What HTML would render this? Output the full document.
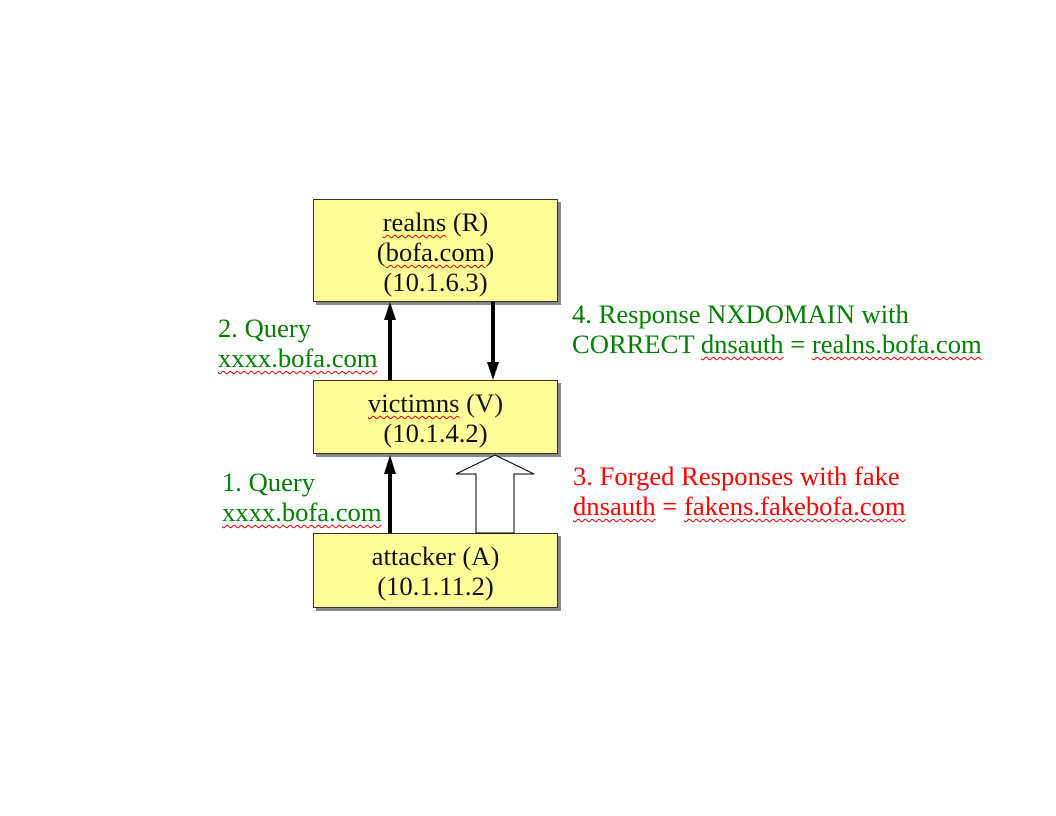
<!DOCTYPE html>
<html><head><style>
body{margin:0;width:1056px;height:816px;background:#fff;position:relative;font-family:"Liberation Serif",serif;font-size:26.6px;overflow:hidden}
.box{position:absolute;left:313px;width:245px;background:#ffff99;border:1px solid #333;box-shadow:3px 3px 0 #888;text-align:center;line-height:30px;color:#111;box-sizing:border-box}
.t{position:absolute;line-height:30px;white-space:nowrap}
.g{color:#008000}.r{color:#ff0000}
.w{text-decoration:underline wavy #e00000;text-decoration-thickness:1px;text-underline-offset:3px}
</style></head><body>
<div class="box" style="top:199px;height:103px;padding-top:7px">
<span class="w">realns</span> (R)<br>(<span class="w">bofa.com</span>)<br>(10.1.6.3)</div>
<div class="box" style="top:380px;height:74px;padding-top:7px">
<span class="w">victimns</span> (V)<br>(10.1.4.2)</div>
<div class="box" style="top:533px;height:75px;padding-top:7px">attacker (A)<br>(10.1.11.2)</div>
<svg width="1056" height="816" style="position:absolute;left:0;top:0">
<line x1="390" y1="380" x2="390" y2="318" stroke="#000" stroke-width="4"/>
<polygon points="384,320 396,320 390,302" fill="#000"/>
<line x1="493" y1="302" x2="493" y2="364" stroke="#000" stroke-width="4"/>
<polygon points="487,362 499,362 493,380" fill="#000"/>
<line x1="390" y1="533" x2="390" y2="472" stroke="#000" stroke-width="4"/>
<polygon points="384,474 396,474 390,455" fill="#000"/>
<polygon points="476,533 476,474 456,474 495,455 534,474 514,474 514,533" fill="#fff" stroke="#000" stroke-width="1"/>
</svg>
<div class="t g" style="left:218px;top:313px">2. Query<br><span class="w">xxxx.bofa.com</span></div>
<div class="t g" style="left:222px;top:467px">1. Query<br><span class="w">xxxx.bofa.com</span></div>
<div class="t g" style="left:572px;top:299px">4. Response NXDOMAIN with<br>CORRECT <span class="w">dnsauth</span> = <span class="w">realns.bofa.com</span></div>
<div class="t r" style="left:573px;top:461px">3. Forged Responses with fake<br><span class="w">dnsauth</span> = <span class="w">fakens.fakebofa.com</span></div>
</body></html>
